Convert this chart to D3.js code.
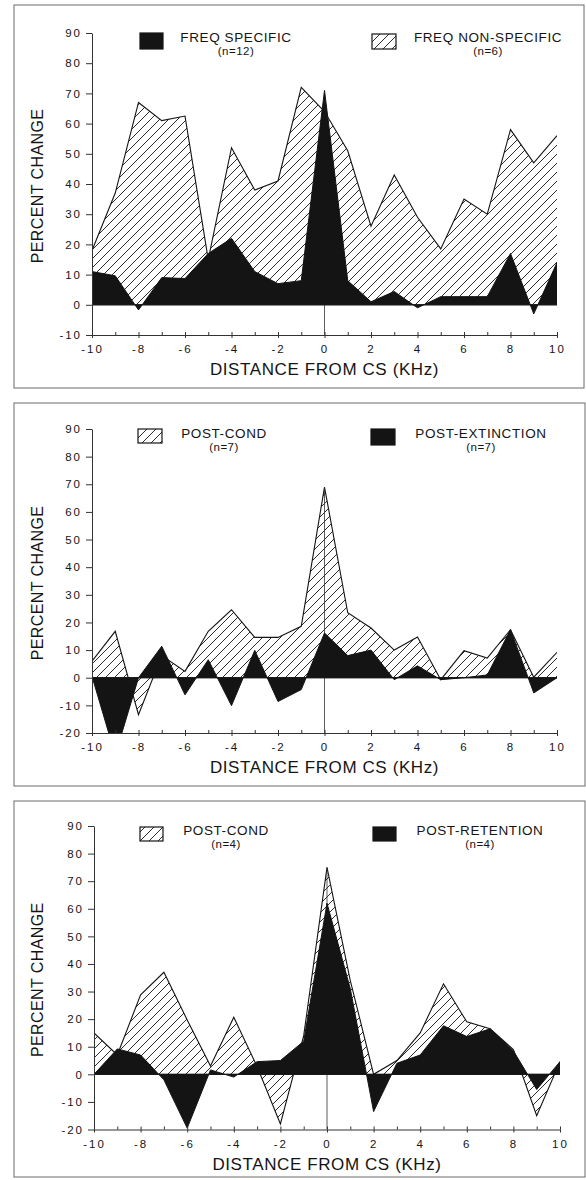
<!DOCTYPE html>
<html>
<head>
<meta charset="utf-8">
<script src="https://cdn.jsdelivr.net/npm/d3@7"></script>
<style>
  body { margin: 0; background: #fff; }
  svg { display: block; font-family: "Liberation Sans", Arial, sans-serif; }
</style>
</head>
<body>
<svg width="586" height="1180"></svg>
<script>
// distance from CS (kHz)
const distances = [-10, -9, -8, -7, -6, -5, -4, -3, -2, -1, 0, 1, 2, 3, 4, 5, 6, 7, 8, 9, 10];

// panel 1
const freqSpecific = [11, 9.6, -1.7, 9, 8.7, 17, 22, 11, 7, 8, 71, 8, 1, 4.4, -1, 2.7, 2.7, 2.7, 17, -3, 14];
const freqNonSpecific = [18, 37, 67, 61, 62.5, 15, 52, 38, 41, 72, 64, 51, 26, 43, 29, 18.5, 35, 30, 58, 47, 56];

// panel 2
const postCond7 = [6, 16.8, -13.4, 8, 2.3, 16.8, 24.6, 14.6, 14.6, 18.6, 69, 23.5, 18, 10, 14.7, -0.7, 9.8, 7.1, 17.4, 0.2, 9.2];
const postExtinction = [0.5, -28, 0, 11.4, -6.2, 6.5, -10.1, 9.9, -8.6, -4.3, 16.2, 8, 10, -0.7, 4.3, -0.7, 0, 1, 17.4, -5.5, 0];

// panel 3
const postCond4 = [15, 7, 28.8, 37, 19.7, 3, 20.7, 2.8, -18, 14, 75, 34, 0, 5, 15, 32.8, 19, 16.5, 9, -15, 4.6];
const postRetention = [0, 9.2, 7, -2, -19.5, 1.6, -1, 4.6, 5, 12, 62, 31, -13.5, 4, 7, 17.6, 13.7, 16.5, 8.5, -5.5, 4.6];

const yTicksTop = [-10, 0, 10, 20, 30, 40, 50, 60, 70, 80, 90];
const yTicksLow = [-20, -10, 0, 10, 20, 30, 40, 50, 60, 70, 80, 90];
const xTickLabels = [-10, -8, -6, -4, -2, 0, 2, 4, 6, 8, 10];

const ink = '#141414';
const svg = d3.select('svg');

// diagonal hatch
svg.append('defs')
  .append('pattern')
  .attr('id', 'hatch')
  .attr('patternUnits', 'userSpaceOnUse')
  .attr('width', 9)
  .attr('height', 9)
  .call((p) => {
    p.append('rect').attr('width', 9).attr('height', 9).attr('fill', '#fff');
    p.append('path')
      .attr('d', 'M-2,2 L2,-2 M0,9 L9,0 M7,11 L11,7')
      .attr('stroke', ink)
      .attr('stroke-width', 0.9);
  });

const panels = [
  {
    box: [14, 5, 584, 388],
    xr: [92, 557], yr: [335, 33], dom: [-10, 90], yTicks: yTicksTop,
    hatched: freqNonSpecific, solid: freqSpecific,
    legend: [
      { kind: 'solid', x: 140, y: 33, w: 23, h: 16, label: 'FREQ SPECIFIC', n: '(n=12)', cx: 236, by: 42 },
      { kind: 'hatch', x: 372, y: 34, w: 24, h: 15, label: 'FREQ NON-SPECIFIC', n: '(n=6)', cx: 488, by: 42 },
    ],
  },
  {
    box: [14, 403, 585, 786],
    xr: [92, 557], yr: [733, 429], dom: [-20, 90], yTicks: yTicksLow,
    hatched: postCond7, solid: postExtinction,
    legend: [
      { kind: 'hatch', x: 138, y: 429, w: 24, h: 14, label: 'POST-COND', n: '(n=7)', cx: 224, by: 438 },
      { kind: 'solid', x: 371, y: 429, w: 24, h: 16, label: 'POST-EXTINCTION', n: '(n=7)', cx: 481, by: 438 },
    ],
  },
  {
    box: [14, 801, 585, 1177],
    xr: [94, 560], yr: [1129.5, 826], dom: [-20, 90], yTicks: yTicksLow,
    hatched: postCond4, solid: postRetention,
    legend: [
      { kind: 'hatch', x: 140, y: 827, w: 23, h: 14, label: 'POST-COND', n: '(n=4)', cx: 226, by: 835 },
      { kind: 'solid', x: 373, y: 827, w: 23, h: 14, label: 'POST-RETENTION', n: '(n=4)', cx: 480, by: 835 },
    ],
  },
];

panels.forEach((pn, i) => {
  const g = svg.append('g');
  const [bx0, by0, bx1, by1] = pn.box;

  g.append('rect')
    .attr('x', bx0).attr('y', by0)
    .attr('width', bx1 - bx0).attr('height', by1 - by0)
    .attr('fill', 'none').attr('stroke', '#6a6a6a').attr('stroke-width', 1);

  const x = d3.scaleLinear().domain([-10, 10]).range(pn.xr);
  const y = d3.scaleLinear().domain(pn.dom).range(pn.yr);

  const clipId = 'clip' + i;
  svg.select('defs').append('clipPath').attr('id', clipId)
    .append('rect')
    .attr('x', pn.xr[0]).attr('y', pn.yr[1] - 5)
    .attr('width', pn.xr[1] - pn.xr[0]).attr('height', pn.yr[0] - pn.yr[1] + 5);

  const plot = g.append('g').attr('clip-path', `url(#${clipId})`);

  const area = d3.area()
    .x((d, j) => x(distances[j]))
    .y0(y(0))
    .y1((d) => y(d));
  const line = d3.line()
    .x((d, j) => x(distances[j]))
    .y((d) => y(d));

  plot.append('path').datum(pn.hatched)
    .attr('d', area).attr('fill', 'url(#hatch)');
  plot.append('path').datum(pn.hatched)
    .attr('d', line).attr('fill', 'none').attr('stroke', ink).attr('stroke-width', 1.1);

  // zero baseline and CS marker
  plot.append('line')
    .attr('x1', x(-10)).attr('x2', x(10))
    .attr('y1', y(0)).attr('y2', y(0))
    .attr('stroke', ink).attr('stroke-width', 1);
  plot.append('line')
    .attr('x1', x(0)).attr('x2', x(0))
    .attr('y1', y(pn.dom[0])).attr('y2', y(pn.hatched[distances.indexOf(0)]))
    .attr('stroke', '#333').attr('stroke-width', 0.8);

  plot.append('path').datum(pn.solid)
    .attr('d', area).attr('fill', ink).attr('stroke', ink).attr('stroke-width', 1);

  // axes
  const yAxis = g.append('g')
    .attr('transform', `translate(${pn.xr[0]},0)`)
    .call(d3.axisLeft(y).tickValues(pn.yTicks).tickSize(6).tickSizeOuter(0).tickPadding(4).tickFormat((d) => String(d)));

  const xMinor = g.append('g')
    .attr('transform', `translate(0,${pn.yr[0]})`)
    .call(d3.axisBottom(x).tickValues(distances).tickSize(-3).tickSizeOuter(0).tickFormat(''));

  const xAxis = g.append('g')
    .attr('transform', `translate(0,${pn.yr[0]})`)
    .call(d3.axisBottom(x).tickValues(xTickLabels).tickSize(3).tickSizeOuter(0).tickPadding(7).tickFormat((d) => String(d)));

  [yAxis, xMinor, xAxis].forEach((a) => {
    a.selectAll('path, line').attr('stroke', '#333').attr('stroke-width', 1);
    a.selectAll('text')
      .attr('fill', ink)
      .style('font-size', '11.5px')
      .style('letter-spacing', '2px');
  });
  xMinor.select('.domain').remove();

  g.append('text')
    .attr('x', x(0)).attr('y', pn.yr[0] + 40)
    .attr('text-anchor', 'middle')
    .attr('fill', ink)
    .style('font-size', '17px')
    .style('letter-spacing', '0.6px')
    .text('DISTANCE FROM CS (KHz)');

  g.append('text')
    .attr('transform', `translate(43,${(pn.yr[0] + pn.yr[1]) / 2 + 2}) rotate(-90)`)
    .attr('text-anchor', 'middle')
    .attr('fill', ink)
    .style('font-size', '16px')
    .style('letter-spacing', '0.4px')
    .text('PERCENT CHANGE');

  // legend
  pn.legend.forEach((it) => {
    g.append('rect')
      .attr('x', it.x).attr('y', it.y)
      .attr('width', it.w).attr('height', it.h)
      .attr('fill', it.kind === 'solid' ? ink : 'url(#hatch)')
      .attr('stroke', ink).attr('stroke-width', 1.2);
    g.append('text')
      .attr('x', it.cx).attr('y', it.by)
      .attr('text-anchor', 'middle')
      .attr('fill', ink)
      .style('font-size', '13.5px')
      .style('letter-spacing', '0.6px')
      .text(it.label);
    g.append('text')
      .attr('x', it.cx).attr('y', it.by + 13)
      .attr('text-anchor', 'middle')
      .attr('fill', ink)
      .style('font-size', '11.5px')
      .style('letter-spacing', '0.5px')
      .text(it.n);
  });
});
</script>
</body>
</html>
